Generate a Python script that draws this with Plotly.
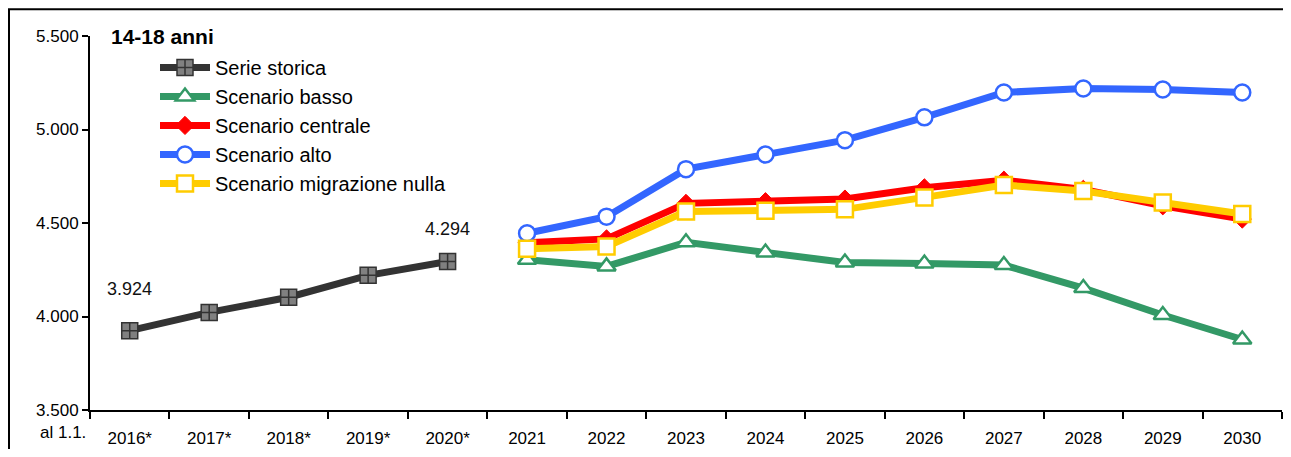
import plotly.graph_objects as go

categories = ["2016*", "2017*", "2018*", "2019*", "2020*",
              "2021", "2022", "2023", "2024", "2025",
              "2026", "2027", "2028", "2029", "2030"]
hist_years = categories[:5]
proj_years = categories[5:]

serie_storica = [3924, 4022, 4103, 4220, 4294]
scenario_basso = [4303, 4268, 4397, 4342, 4289, 4283, 4275, 4152, 4008, 3877]
scenario_centrale = [4394, 4415, 4605, 4614, 4628, 4688, 4729, 4680, 4592, 4521]
scenario_alto = [4445, 4534, 4788, 4866, 4943, 5065, 5198, 5219, 5214, 5198]
scenario_migrazione_nulla = [4362, 4374, 4561, 4566, 4573, 4637, 4703, 4671, 4610, 4548]

y_tickvals = [3500, 4000, 4500, 5000, 5500]
y_ticktext = ["3.500", "4.000", "4.500", "5.000", "5.500"]

FONT = "Liberation Sans, Arial, sans-serif"

def fmt(v):
    return f"{v:,}".replace(",", ".")

fig = go.Figure()

fig.add_trace(go.Scatter(
    x=hist_years, y=serie_storica, name="Serie storica", mode="lines+markers",
    line=dict(color="#333333", width=7),
    marker=dict(symbol="square-cross", size=16, color="#808080",
                line=dict(color="#333333", width=1.5)),
))
fig.add_trace(go.Scatter(
    x=proj_years, y=scenario_basso, name="Scenario basso", mode="lines+markers",
    line=dict(color="#339966", width=7),
    marker=dict(symbol="triangle-up", size=16, color="white",
                line=dict(color="#339966", width=2.5)),
))
fig.add_trace(go.Scatter(
    x=proj_years, y=scenario_centrale, name="Scenario centrale", mode="lines+markers",
    line=dict(color="#FF0000", width=7),
    marker=dict(symbol="diamond", size=14, color="#FF0000",
                line=dict(color="#FF0000", width=1)),
))
fig.add_trace(go.Scatter(
    x=proj_years, y=scenario_alto, name="Scenario alto", mode="lines+markers",
    line=dict(color="#3366FF", width=7),
    marker=dict(symbol="circle", size=16, color="white",
                line=dict(color="#3366FF", width=2.5)),
))
fig.add_trace(go.Scatter(
    x=proj_years, y=scenario_migrazione_nulla, name="Scenario migrazione nulla",
    mode="lines+markers",
    line=dict(color="#FFCC00", width=7),
    marker=dict(symbol="square", size=16, color="white",
                line=dict(color="#FFCC00", width=2.5)),
))

# value labels
labels = [
    (hist_years[0], serie_storica[0], 42),
    (hist_years[-1], serie_storica[-1], 33),
    (proj_years[6], scenario_centrale[6], 26),
    (proj_years[-1], scenario_centrale[-1], 35),
]
for x, v, ys in labels:
    fig.add_annotation(x=x, y=v, text=fmt(v), showarrow=False, yshift=ys,
                       font=dict(family=FONT, size=18, color="#111111"))

# page body has an 8px margin on every side; keep the figure inside the viewport
OFF = 8
W, H = 1291 - 2 * OFF, 457 - 2 * OFF
L, T = 90 - OFF, 36 - OFF
R = W - (1282 - OFF)
B = H - (412 - OFF)
pw = W - L - R
ph = H - T - B

def px_x(p):
    return (p - OFF - L) / pw

def px_y(p):
    return (H - B - (p - OFF)) / ph

fig.add_annotation(xref="paper", yref="paper", x=px_x(109), y=px_y(37),
                   xanchor="left", yanchor="middle", showarrow=False,
                   text="<b>14-18 anni</b>",
                   font=dict(family=FONT, size=21, color="black"))
fig.add_annotation(xref="paper", yref="paper", x=px_x(63), y=px_y(435),
                   xanchor="center", yanchor="middle", showarrow=False,
                   text="al 1.1.",
                   font=dict(family=FONT, size=17, color="black"))

# outer frame (left and top edges visible)
fig.add_shape(type="line", xref="paper", yref="paper",
              x0=px_x(9), y0=px_y(470), x1=px_x(9), y1=px_y(9),
              line=dict(color="black", width=2))
fig.add_shape(type="line", xref="paper", yref="paper",
              x0=px_x(8), y0=px_y(9), x1=px_x(1300), y1=px_y(9),
              line=dict(color="black", width=2))

fig.update_layout(
    width=W, height=H,
    margin=dict(l=L, r=R, t=T, b=B, pad=0),
    paper_bgcolor="white", plot_bgcolor="white",
    font=dict(family=FONT, size=16, color="black"),
    showlegend=True,
    legend=dict(x=px_x(155), y=px_y(48), xanchor="left", yanchor="top",
                bgcolor="rgba(0,0,0,0)", font=dict(family=FONT, size=20),
                itemwidth=50, tracegroupgap=0),
    xaxis=dict(type="category", categoryorder="array", categoryarray=categories,
               range=[-0.5, len(categories) - 0.5],
               showline=True, linecolor="black", linewidth=2,
               ticks="outside", tickson="boundaries", ticklen=7, tickwidth=2,
               tickcolor="black", showgrid=False, zeroline=False,
               ticklabelstandoff=12,
               tickfont=dict(family=FONT, size=17)),
    yaxis=dict(range=[3500, 5500], tickvals=y_tickvals, ticktext=y_ticktext,
               showline=True, linecolor="black", linewidth=2,
               ticks="outside", ticklen=6, tickwidth=2, tickcolor="black",
               showgrid=False, zeroline=False,
               tickfont=dict(family=FONT, size=17)),
)

fig.write_html("out.html")
